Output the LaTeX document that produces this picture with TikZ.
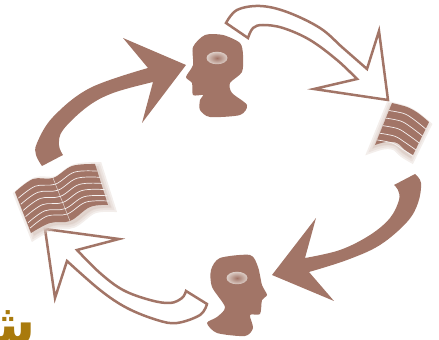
\documentclass[tikz,border=0pt]{standalone}
\usepackage{fontspec}
\usepackage{xcolor}
\usepackage{tikz}
\usetikzlibrary{shapes.geometric}
\newfontfamily\arabicfont[Script=Arabic]{DejaVu Sans}
\TeXXeTstate=1
\definecolor{headbrown}{HTML}{A27567}
\definecolor{eyepale}{HTML}{DCCDC6}
\definecolor{titlegold}{HTML}{A97A0C}
\newcommand{\leftbook}{plot[smooth, tension=0.6] coordinates {(15,192) (33,179) (53,178) (72,166) (95,164)} -- plot[smooth, tension=0.6] coordinates {(108,205) (90,207) (70,221) (50,223) (31,233)} -- cycle}
\newcommand{\rightbook}{plot[smooth, tension=0.6] coordinates {(392,103) (407,107) (418,113) (429,122)} -- plot[smooth, tension=0.6] coordinates {(413,155) (405,150) (397,143) (386,142) (375,145)} -- cycle}

\begin{document}
\begin{tikzpicture}[x=0.02cm, y=-0.02cm,
    solidarrow/.style={fill=headbrown},
    hollowarrow/.style={draw=headbrown, line width=0.5mm, fill=white, line join=miter},
    headshape/.style={fill=headbrown},
    eyespot/.style={ellipse, minimum width=0.42cm, minimum height=0.25cm, inner sep=0pt, shade, inner color=headbrown, outer color=eyepale},
    pagefill/.style={fill=headbrown},
    pageglow/.style={draw=eyepale, fill=eyepale, opacity=0.35},
    waveline/.style={draw=white!90!headbrown, line width=0.14mm},
    spine/.style={draw=white!70!headbrown, line width=0.1mm}
]
\useasboundingbox (0,0) rectangle (439,340);

% filled arrows
\fill[solidarrow] (42,166) -- plot[smooth, tension=0.6] coordinates {(42,166) (36,155) (37,143) (53,117) (90,88) (148,68)}
    -- (123,38) -- (186,65) -- (142,123) -- (153,82)
    -- plot[smooth, tension=0.6] coordinates {(153,82) (113,93) (87,107) (63,130) (59,145) (63,155)} -- cycle;
\fill[solidarrow] (394,185) -- (415,174) -- plot[smooth, tension=0.6] coordinates {(415,174) (421,183) (418,203) (407,222) (380,245) (347,260) (309,272)}
    -- (334,301) -- (272,275) -- (316,218) -- (305,258)
    -- plot[smooth, tension=0.6] coordinates {(305,258) (340,250) (370,235) (390,218) (399,200) (398,190) (394,185)} -- cycle;

% hollow arrows
\draw[hollowarrow] (226,23) -- plot[smooth, tension=0.6] coordinates {(226,23) (237,10) (260,6) (287,12) (320,28) (343,48) (367,69)}
    -- (379,31) -- (388,100) -- (314,89) -- (357,79)
    -- plot[smooth, tension=0.6] coordinates {(357,79) (337,60) (310,40) (283,28) (263,25) (253,28) (248,38)} -- cycle;
\draw[hollowarrow] (45,229) -- (119,239) -- (77,250)
    -- plot[smooth, tension=0.6] coordinates {(77,250) (100,273) (123,290) (150,300) (170,303) (182,298) (186,291)}
    -- (207,304) -- plot[smooth, tension=0.6] coordinates {(207,304) (200,315) (177,323) (157,320) (127,308) (100,290) (67,261)}
    -- (55,298) -- cycle;

% heads
\fill[headshape] plot[smooth cycle, tension=0.45] coordinates {(205,35) (223,35) (240,43) (243,55) (242,72) (230,83) (232,93) (247,105) (240,115) (210,117) (200,110) (200,100) (203,95) (193,95) (192,83) (186,77) (193,65) (193,47)};
\fill[headshape] plot[smooth cycle, tension=0.45] coordinates {(220,258) (250,255) (258,267) (262,285) (267,295) (262,300) (260,314) (250,315) (253,328) (245,336) (217,333) (207,323) (217,317) (225,307) (212,287) (211,270)};
\node[eyespot] (eyetop) at (217,58) {};
\node[eyespot] (eyebottom) at (237,278) {};

% left book
\foreach \w in {5,3,1} {
    \draw[pageglow, line width=\w pt, xshift=0.06cm, yshift=-0.05cm] \leftbook;
}
\fill[pagefill] \leftbook;
\draw[spine] (53,178) -- (70,221);
\foreach \t in {0.15,0.30,0.45,0.60,0.75,0.88} {
    \draw[waveline, shift={(15+16*\t,192+41*\t)}] plot[smooth, tension=0.6] coordinates {(1,0) (18,-12) (38,-14) (57,-26) (80,-27)};
}

% right book
\foreach \w in {5,3,1} {
    \draw[pageglow, line width=\w pt, xshift=-0.04cm, yshift=-0.06cm] \rightbook;
}
\fill[pagefill] \rightbook;
\foreach \t in {0.18,0.36,0.54,0.72,0.88} {
    \draw[waveline, shift={(392-17*\t,103+42*\t)}] plot[smooth, tension=0.6] coordinates {(0,0) (15,3) (25,9) (37-\t,19-3*\t)};
}

% word cut by the page edge
\begin{scope}
\clip (0,0) rectangle (439,340);
\node[inner sep=0pt, anchor=base east, text=titlegold, font=\arabicfont\fontsize{32}{32}\selectfont\bfseries] (titleword) at (36,344) {\beginR شـ\endR};
\end{scope}
\end{tikzpicture}
\end{document}
